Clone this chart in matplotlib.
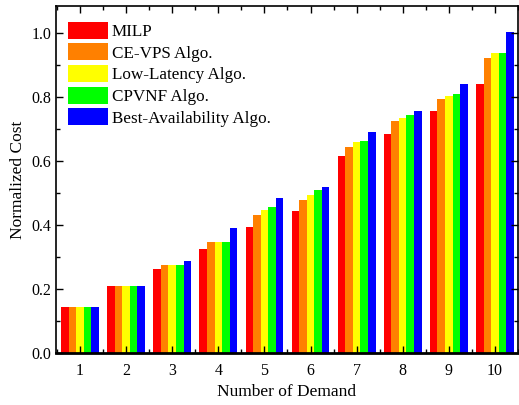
import matplotlib
matplotlib.use("Agg")
import matplotlib.pyplot as plt
import numpy as np
from matplotlib.ticker import MultipleLocator

plt.rcParams['font.family'] = ['Liberation Serif', 'DejaVu Serif']
plt.rcParams['mathtext.fontset'] = 'stix'

demands = [1, 2, 3, 4, 5, 6, 7, 8, 9, 10]
series_names = ["MILP", "CE-VPS Algo.", "Low-Latency Algo.", "CPVNF Algo.", "Best-Availability Algo."]
milp = [0.145, 0.21, 0.263, 0.325, 0.394, 0.444, 0.617, 0.684, 0.756, 0.842]
cevps = [0.145, 0.21, 0.275, 0.347, 0.431, 0.478, 0.645, 0.725, 0.794, 0.922]
lowlat = [0.145, 0.21, 0.275, 0.347, 0.447, 0.494, 0.660, 0.736, 0.803, 0.937]
cpvnf = [0.145, 0.21, 0.275, 0.347, 0.457, 0.509, 0.663, 0.743, 0.809, 0.939]
bestav = [0.145, 0.21, 0.288, 0.392, 0.484, 0.520, 0.690, 0.758, 0.840, 1.003]
colors = ["#ff0000", "#ff8000", "#ffff00", "#00ff00", "#0000ff"]

fig = plt.figure(figsize=(5.19, 4.05), dpi=100)
ax = fig.add_axes([0.108, 0.1284, 0.890, 0.8568])

x = np.array(demands, dtype=float)
w = 0.164
all_series = [milp, cevps, lowlat, cpvnf, bestav]
for i, (vals, name, c) in enumerate(zip(all_series, series_names, colors)):
    ax.bar(x + (i - 2) * w, vals, width=w, color=c, label=name, linewidth=0)

ax.set_xlim(0.48, 10.46)
ax.set_ylim(0, 1.085)
ax.set_xticks(demands)
ax.set_xticks(np.arange(0.5, 11, 1), minor=True)
ax.yaxis.set_major_locator(MultipleLocator(0.2))
ax.yaxis.set_minor_locator(MultipleLocator(0.1))
ax.yaxis.set_major_formatter(matplotlib.ticker.FormatStrFormatter('%.1f'))
ax.tick_params(axis='both', which='major', direction='in', length=5, width=1, labelsize=11.5,
               top=True, right=True)
ax.tick_params(axis='both', which='minor', direction='in', length=3, width=1, top=True, right=True)
ax.tick_params(axis='x', which='major', pad=7)
for s in ax.spines.values():
    s.set_linewidth(1.2)
ax.spines['bottom'].set_linewidth(2)

ax.set_xlabel("Number of Demand", fontsize=12.5)
ax.set_ylabel("Normalized Cost", fontsize=12.5)

ax.legend(loc='upper left', frameon=False, prop={'size': 12.3}, handlelength=2.35, handleheight=1.15,
          labelspacing=0.2, handletextpad=0.25, borderaxespad=0.0, borderpad=0.0,
          bbox_to_anchor=(0.025, 0.955))

fig.savefig("out.png", dpi=100)
